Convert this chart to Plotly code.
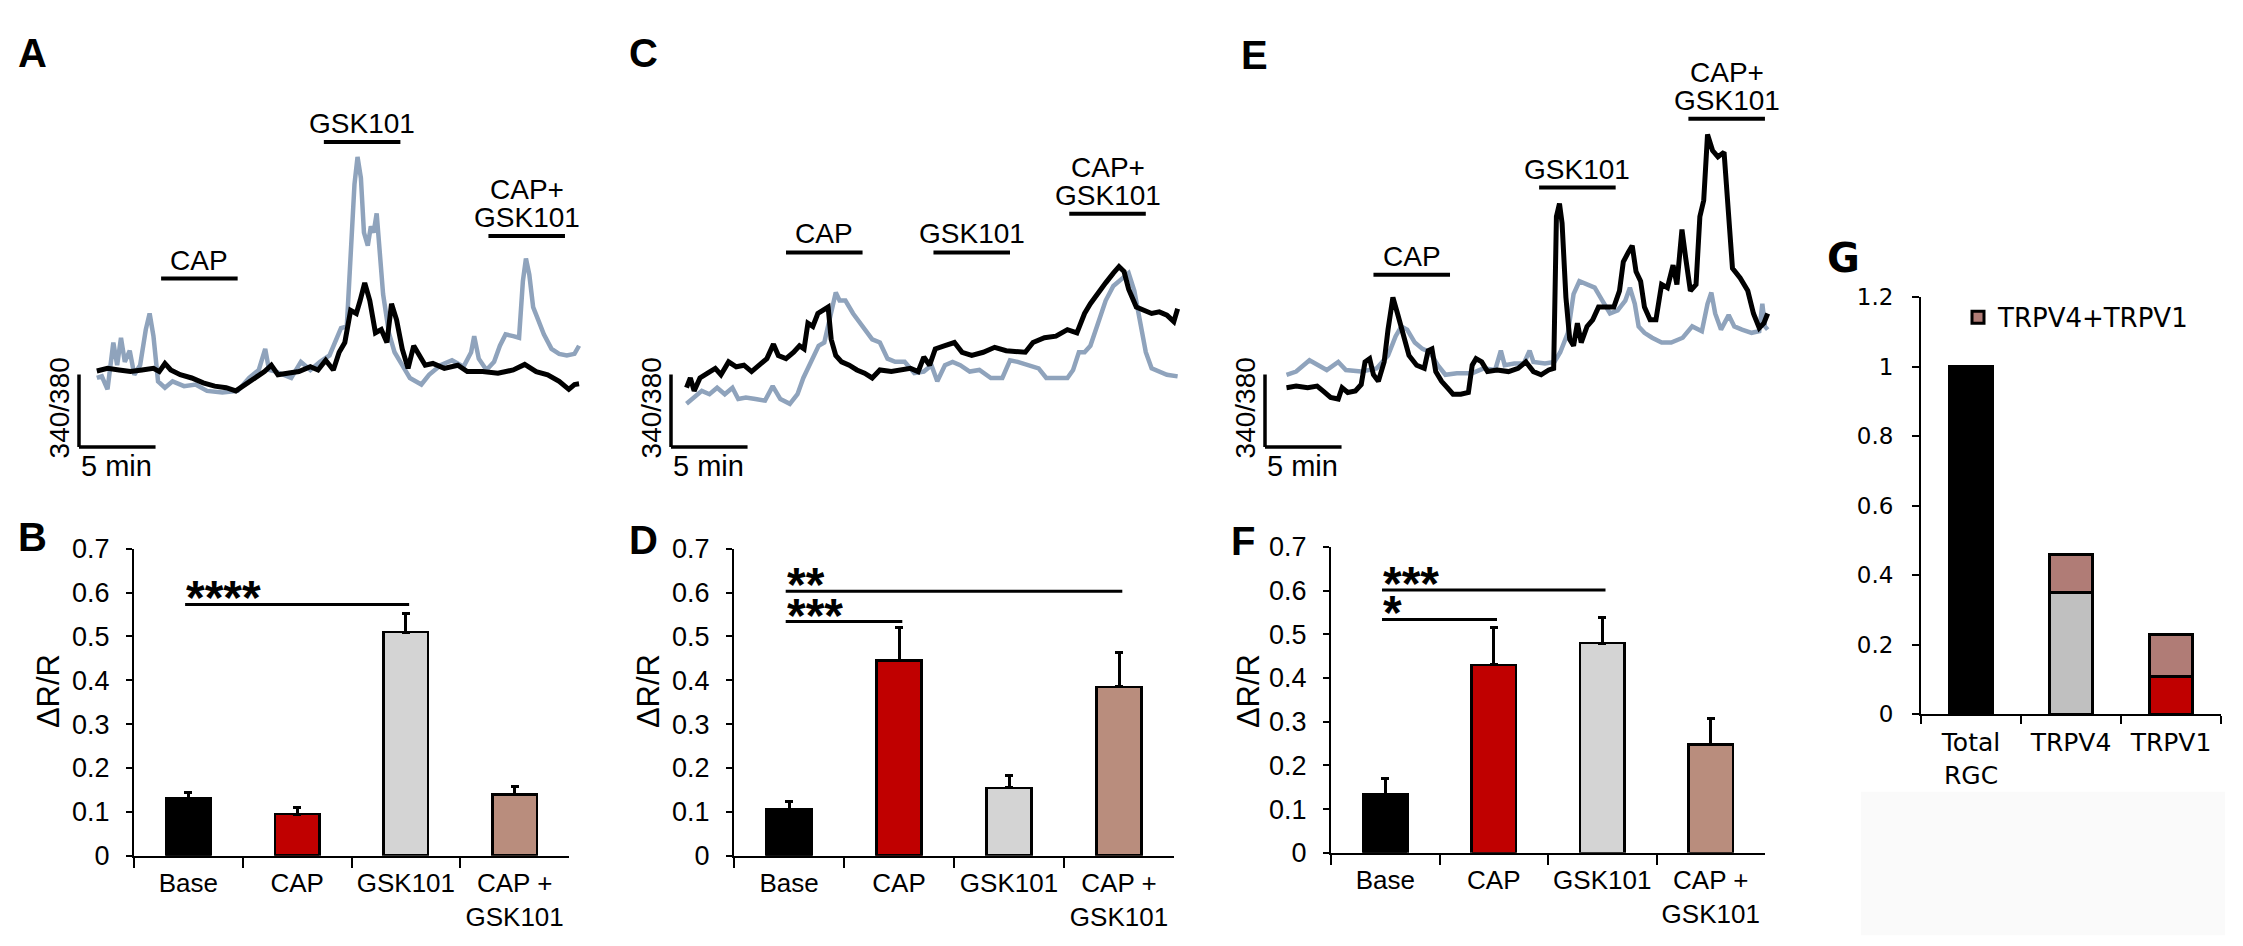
import plotly.graph_objects as go

W, H = 2243, 946

# calcium imaging traces, (time in min, fura-2 340/380 ratio)
A_GRAY = [(0.0, 0.956), (0.33, 0.967), (0.7, 0.878), (0.95, 1.067), (1.08, 1.2), (1.33, 1.044), (1.58, 1.233),
          (1.83, 1.067), (2.15, 1.144), (2.45, 0.978), (2.83, 1.044), (3.2, 1.289), (3.45, 1.4), (3.7, 1.244),
          (4.0, 0.933), (4.45, 0.889), (4.95, 0.933), (5.7, 0.9), (6.45, 0.911), (7.2, 0.867), (8.2, 0.856),
          (9.2, 0.867), (9.95, 0.956), (10.58, 1.011), (11.0, 1.156), (11.25, 1.011), (11.7, 1.0), (12.7, 0.956),
          (13.33, 1.067), (13.95, 1.011), (14.58, 1.067), (15.2, 1.111), (15.95, 1.3), (16.33, 1.311),
          (16.58, 1.844), (16.83, 2.289), (17.03, 2.478), (17.25, 2.333), (17.45, 1.956), (17.7, 1.867),
          (17.9, 2.0), (18.08, 1.956), (18.28, 2.089), (18.45, 1.889), (18.7, 1.533), (19.08, 1.267),
          (19.45, 1.133), (19.95, 1.044), (20.45, 0.956), (21.2, 0.911), (21.7, 0.978), (22.45, 1.044),
          (23.2, 1.078), (23.95, 1.033), (24.45, 1.133), (24.65, 1.244), (24.95, 1.089), (25.45, 1.011),
          (25.95, 1.067), (26.33, 1.178), (26.7, 1.256), (27.2, 1.244), (27.58, 1.233), (27.83, 1.622),
          (28.03, 1.778), (28.25, 1.667), (28.5, 1.444), (28.83, 1.356), (29.2, 1.256), (29.7, 1.156),
          (30.2, 1.122), (30.7, 1.111), (31.2, 1.122), (31.5, 1.178)]
A_BLACK = [(0.0, 1.004), (0.7, 1.022), (1.45, 1.011), (2.2, 1.0), (2.95, 1.011), (3.7, 1.022), (4.08, 1.0),
           (4.45, 1.056), (4.83, 1.011), (5.45, 0.978), (6.2, 0.956), (6.95, 0.922), (7.7, 0.9), (8.45, 0.889),
           (9.08, 0.867), (9.7, 0.911), (10.45, 0.967), (10.95, 1.0), (11.4, 1.044), (11.83, 0.978),
           (12.45, 0.989), (13.2, 1.0), (13.95, 1.033), (14.45, 1.011), (14.95, 1.078), (15.45, 1.011),
           (15.83, 1.133), (16.2, 1.2), (16.58, 1.422), (16.95, 1.4), (17.2, 1.489), (17.5, 1.611),
           (17.83, 1.489), (18.2, 1.267), (18.58, 1.289), (18.95, 1.2), (19.25, 1.467), (19.58, 1.356),
           (19.95, 1.156), (20.33, 1.022), (20.7, 1.178), (21.08, 1.111), (21.45, 1.044), (21.95, 1.056),
           (22.7, 1.022), (23.58, 1.044), (24.2, 1.0), (25.2, 1.0), (26.2, 0.989), (27.2, 1.011),
           (27.95, 1.049), (28.7, 1.0), (29.45, 0.978), (30.2, 0.933), (30.83, 0.878), (31.2, 0.911),
           (31.5, 0.916)]
C_GRAY = [(0.0, 0.778), (0.5, 0.822), (1.0, 0.867), (1.5, 0.844), (2.0, 0.889), (2.5, 0.844), (3.0, 0.889),
          (3.38, 0.811), (3.88, 0.822), (4.5, 0.811), (5.13, 0.8), (5.63, 0.9), (6.13, 0.811), (6.75, 0.778),
          (7.25, 0.844), (7.63, 0.956), (8.13, 1.067), (8.63, 1.178), (9.0, 1.2), (9.25, 1.311), (9.5, 1.444),
          (9.75, 1.544), (10.0, 1.489), (10.38, 1.489), (10.88, 1.4), (11.38, 1.333), (12.13, 1.222),
          (12.63, 1.2), (13.13, 1.089), (13.63, 1.067), (14.25, 1.067), (14.88, 0.989), (15.5, 1.0),
          (16.0, 1.044), (16.38, 0.933), (16.88, 1.044), (17.38, 1.067), (17.88, 1.044), (18.5, 1.0),
          (19.13, 1.011), (19.88, 0.956), (20.63, 0.956), (21.13, 1.078), (21.63, 1.067), (22.38, 1.044),
          (23.0, 1.022), (23.5, 0.956), (24.13, 0.956), (24.88, 0.956), (25.25, 1.011), (25.63, 1.133),
          (26.0, 1.133), (26.38, 1.178), (26.88, 1.333), (27.38, 1.489), (27.88, 1.589), (28.5, 1.644),
          (28.88, 1.678), (29.25, 1.556), (29.63, 1.356), (30.0, 1.133), (30.38, 1.022), (30.88, 1.0),
          (31.38, 0.978), (32.08, 0.967)]
C_BLACK = [(0.0, 0.889), (0.25, 0.956), (0.5, 0.867), (0.88, 0.956), (1.38, 0.989), (1.88, 1.022),
           (2.25, 0.978), (2.75, 1.067), (3.25, 1.033), (3.75, 1.044), (4.25, 1.0), (4.75, 1.044),
           (5.25, 1.089), (5.68, 1.189), (6.0, 1.111), (6.5, 1.089), (7.0, 1.133), (7.38, 1.178),
           (7.68, 1.156), (7.93, 1.333), (8.25, 1.311), (8.58, 1.4), (8.93, 1.422), (9.25, 1.444),
           (9.45, 1.222), (9.75, 1.111), (10.13, 1.067), (10.63, 1.044), (11.13, 1.011), (11.63, 0.989),
           (12.13, 0.956), (12.63, 1.011), (13.38, 1.0), (14.0, 1.011), (14.63, 1.022), (15.13, 1.0),
           (15.5, 1.1), (15.88, 1.044), (16.25, 1.156), (16.88, 1.178), (17.5, 1.2), (18.0, 1.133),
           (18.63, 1.111), (19.38, 1.133), (20.13, 1.167), (20.88, 1.144), (21.63, 1.133), (22.13, 1.133),
           (22.63, 1.2), (23.38, 1.233), (24.13, 1.244), (24.88, 1.289), (25.5, 1.267), (26.0, 1.4),
           (26.38, 1.467), (26.88, 1.544), (27.38, 1.611), (27.88, 1.678), (28.25, 1.722), (28.58, 1.689),
           (28.88, 1.567), (29.38, 1.444), (29.88, 1.422), (30.38, 1.4), (30.88, 1.411), (31.38, 1.389),
           (31.83, 1.344), (32.08, 1.433)]
E_GRAY = [(0.0, 0.978), (0.63, 1.0), (1.5, 1.078), (2.13, 1.044), (2.63, 1.011), (3.38, 1.067), (3.88, 1.011),
          (4.88, 1.0), (5.88, 1.022), (6.63, 1.111), (7.13, 1.244), (7.5, 1.311), (7.88, 1.289), (8.38, 1.2),
          (8.88, 1.156), (9.38, 1.133), (9.88, 1.044), (10.38, 0.978), (11.13, 0.989), (12.13, 0.989),
          (12.88, 1.022), (13.63, 1.011), (14.0, 1.144), (14.25, 1.044), (14.88, 1.056), (15.5, 1.056),
          (15.88, 1.144), (16.13, 1.067), (16.88, 1.056), (17.5, 1.067), (17.88, 1.133), (18.38, 1.267),
          (18.75, 1.533), (19.13, 1.622), (19.63, 1.6), (20.13, 1.578), (20.63, 1.489), (21.13, 1.4),
          (21.63, 1.422), (22.13, 1.489), (22.43, 1.578), (22.75, 1.467), (23.0, 1.311), (23.38, 1.267),
          (23.88, 1.233), (24.5, 1.2), (25.13, 1.2), (25.88, 1.233), (26.5, 1.311), (27.13, 1.278),
          (27.5, 1.467), (27.75, 1.544), (28.0, 1.4), (28.38, 1.289), (28.88, 1.389), (29.25, 1.311),
          (29.75, 1.289), (30.38, 1.267), (30.88, 1.278), (31.08, 1.467), (31.25, 1.311), (31.43, 1.289)]
E_BLACK = [(0.0, 0.889), (0.63, 0.9), (1.38, 0.889), (2.0, 0.9), (2.38, 0.867), (2.88, 0.822), (3.38, 0.811),
           (3.63, 0.889), (4.0, 0.856), (4.5, 0.867), (4.88, 0.911), (5.13, 1.067), (5.43, 1.089),
           (5.68, 0.978), (6.0, 0.933), (6.38, 1.067), (6.63, 1.289), (6.95, 1.511), (7.25, 1.4),
           (7.63, 1.244), (8.0, 1.111), (8.5, 1.044), (9.0, 1.022), (9.25, 1.144), (9.5, 1.156), (9.75, 1.0),
           (10.13, 0.933), (10.5, 0.889), (10.88, 0.844), (11.38, 0.844), (11.88, 0.856), (12.13, 1.044),
           (12.38, 1.089), (12.75, 1.067), (13.13, 1.0), (13.75, 1.011), (14.5, 1.0), (15.13, 1.022),
           (15.63, 1.067), (16.13, 1.0), (16.63, 0.978), (17.13, 1.011), (17.45, 1.022), (17.63, 2.067),
           (17.83, 2.156), (18.0, 2.022), (18.25, 1.511), (18.5, 1.222), (18.75, 1.178), (19.0, 1.333),
           (19.25, 1.2), (19.63, 1.311), (20.0, 1.356), (20.38, 1.444), (20.88, 1.444), (21.38, 1.444),
           (21.75, 1.556), (22.0, 1.756), (22.33, 1.822), (22.58, 1.867), (22.83, 1.689), (23.13, 1.622),
           (23.38, 1.444), (23.75, 1.356), (24.13, 1.356), (24.5, 1.6), (24.88, 1.578), (25.25, 1.733),
           (25.5, 1.6), (25.83, 1.978), (26.08, 1.778), (26.38, 1.556), (26.75, 1.6), (27.0, 2.067),
           (27.25, 2.178), (27.5, 2.633), (27.83, 2.522), (28.18, 2.478), (28.58, 2.511), (28.88, 2.067),
           (29.13, 1.711), (29.63, 1.644), (30.13, 1.556), (30.5, 1.4), (30.88, 1.3), (31.18, 1.333),
           (31.43, 1.4)]

# drug application windows (min)
STIM_LABELS = ["CAP", "GSK101", "CAP+<br>GSK101"]
A_STIM = [(4.2, 9.2), (14.83, 19.83), (25.58, 30.58)]
C_STIM = [(6.5, 11.5), (16.13, 21.13), (25.0, 30.0)]
E_STIM = [(5.68, 10.68), (16.5, 21.5), (26.25, 31.25)]
SCALE_MIN = 5
SCALE_RATIO = 0.5

# mean dR/R and SEM
GROUPS = ["Base", "CAP", "GSK101", "CAP +<br>GSK101"]
B_MEAN = [0.13, 0.095, 0.51, 0.14]
B_SEM = [0.015, 0.016, 0.043, 0.019]
D_MEAN = [0.105, 0.445, 0.155, 0.385]
D_SEM = [0.019, 0.076, 0.027, 0.078]
F_MEAN = [0.133, 0.43, 0.48, 0.248]
F_SEM = [0.036, 0.086, 0.059, 0.06]
B_SIG = [(0, 2, 0.573, "****")]
D_SIG = [(0, 3, 0.603, "**"), (0, 1, 0.534, "***")]
F_SIG = [(0, 2, 0.601, "***"), (0, 1, 0.534, "*")]

# fraction of RGCs
G_CATS = ["Total<br>RGC", "TRPV4", "TRPV1"]
G_SINGLE = [1.0, 0.35, 0.11]
G_BOTH = [0, 0.11, 0.12]

BAR_COLORS = ["#000000", "#C00000", "#D4D4D4", "#B98D7D"]
G_COLORS = ["#000000", "#C0C0C0", "#C00000"]
G_BOTH_COLOR = "#B07C76"
GRAY_TRACE = "#8FA3BC"
FONT = "Liberation Sans, Arial, sans-serif"
FONT_G = "DejaVu Sans, Verdana, sans-serif"


def px(x):
    return x / W


def py(y):
    return 1 - y / H


fig = go.Figure()
layout = {}
shapes = []
annotations = []


def letter(text, x, y, family=FONT, size=40):
    annotations.append(dict(text="<b>%s</b>" % text, x=px(x), y=py(y), xref="paper", yref="paper",
                            xanchor="left", yanchor="middle", showarrow=False,
                            font=dict(family=family, size=size, color="black")))


def paper_text(text, x, y, size=29, angle=0):
    annotations.append(dict(text=text, x=px(x), y=py(y), xref="paper", yref="paper", textangle=angle,
                            xanchor="center", yanchor="middle", showarrow=False,
                            font=dict(family=FONT, size=size, color="black")))


# ---- trace panels A, C, E ----
PPM = 15.31     # px per minute
PPR = 150.0     # px per ratio unit
BASE_Y = 360    # px where ratio = 1
TOP, BOTTOM = 15, 480

trace_panels = [
    ("A", 1, 88.8, (55, 600), 71, A_STIM, [1.64, 2.58, 1.933], A_GRAY, A_BLACK, 8, 31),
    ("C", 2, 678.5, (645, 1190), 663, C_STIM, [1.82, 1.82, 2.087], C_GRAY, C_BLACK, 619, 31),
    ("E", 3, 1278.5, (1240, 1790), 1257, E_STIM, [1.667, 2.267, 2.74], E_GRAY, E_BLACK, 1231, 33),
]

for name, i, x0, (l, r), sb_px, stim, levels, gray, black, lx, ly in trace_panels:
    xa, ya = "x%d" % i, "y%d" % i
    layout["xaxis%d" % i] = dict(domain=[px(l), px(r)], range=[(l - x0) / PPM, (r - x0) / PPM],
                                 visible=False, anchor=ya)
    layout["yaxis%d" % i] = dict(domain=[py(BOTTOM), py(TOP)],
                                 range=[1 - (BOTTOM - BASE_Y) / PPR, 1 + (BASE_Y - TOP) / PPR],
                                 visible=False, anchor=xa)
    for pts, color, lw in [(gray, GRAY_TRACE, 4.5), (black, "black", 5)]:
        fig.add_trace(go.Scatter(x=[p[0] for p in pts], y=[p[1] for p in pts], mode="lines",
                                 line=dict(color=color, width=lw), xaxis=xa, yaxis=ya,
                                 showlegend=False, hoverinfo="skip"))
    # scale bar
    t_sb = (sb_px - x0) / PPM
    r_sb = 1 - (438 - BASE_Y) / PPR
    shapes.append(dict(type="line", xref=xa, yref=ya, x0=t_sb, x1=t_sb, y0=r_sb, y1=r_sb + SCALE_RATIO,
                       line=dict(color="black", width=3.5)))
    shapes.append(dict(type="line", xref=xa, yref=ya, x0=t_sb, x1=t_sb + SCALE_MIN, y0=r_sb, y1=r_sb,
                       line=dict(color="black", width=3.5)))
    paper_text("340/380", sb_px - 20, 398, size=28, angle=-90)
    paper_text("%d min" % SCALE_MIN, sb_px + 37, 458)
    # drug bars
    for (t0, t1), lev, lab in zip(stim, levels, STIM_LABELS):
        shapes.append(dict(type="line", xref=xa, yref=ya, x0=t0, x1=t1, y0=lev, y1=lev,
                           line=dict(color="black", width=4)))
        for k, line_txt in enumerate(reversed(lab.split("<br>"))):
            annotations.append(dict(text=line_txt, x=(t0 + t1) / 2, y=lev, xref=xa, yref=ya,
                                    xanchor="center", yanchor="bottom", yshift=1 + 28 * k,
                                    showarrow=False, font=dict(family=FONT, size=28, color="black")))
    letter(name, lx, ly)

# ---- bar panels B, D, F ----
bar_panels = [
    ("B", 4, (126, 561), (543, 860), B_MEAN, B_SEM, B_SIG, 8, 531, 40),
    ("D", 5, (726, 1166), (543, 860), D_MEAN, D_SEM, D_SIG, 619, 534, 640),
    ("F", 6, (1323, 1757), (541, 857), F_MEAN, F_SEM, F_SIG, 1221, 535, 1240),
]

for name, i, (l, r), (t, b), mean, sem, sig, lx, ly, tx in bar_panels:
    xa, ya = "x%d" % i, "y%d" % i
    fig.add_trace(go.Bar(x=GROUPS, y=mean, width=0.41, xaxis=xa, yaxis=ya, showlegend=False,
                         marker=dict(color=BAR_COLORS, line=dict(color="black", width=2.5)),
                         error_y=dict(type="data", array=sem, arrayminus=[0] * len(sem), symmetric=False,
                                      color="black", thickness=3, width=4),
                         hoverinfo="skip"))
    layout["xaxis%d" % i] = dict(domain=[px(l), px(r)], anchor=ya, type="category", range=[-0.5, 3.5],
                                 showline=True, linecolor="black", linewidth=2, ticks="outside",
                                 tickson="boundaries", ticklen=10, tickwidth=2, tickcolor="black",
                                 showgrid=False, tickangle=0,
                                 tickfont=dict(family=FONT, size=26, color="black"), ticklabelstandoff=3)
    layout["yaxis%d" % i] = dict(domain=[py(b), py(t)], anchor=xa, range=[0, 0.7], dtick=0.1, tick0=0,
                                 showline=True, linecolor="black", linewidth=2, ticks="outside",
                                 ticklen=6, tickwidth=2, tickcolor="black", showgrid=False, zeroline=False,
                                 tickfont=dict(family=FONT, size=27, color="black"), ticklabelstandoff=11)
    for g0, g1, lev, stars in sig:
        shapes.append(dict(type="line", xref=xa, yref=ya, x0=g0 - 0.03, x1=g1 + 0.03, y0=lev, y1=lev,
                           line=dict(color="black", width=3)))
        # box kept just tall enough for the asterisk glyphs so stacked labels do not collide
        annotations.append(dict(text="<b>%s</b>" % stars, x=g0 - 0.04, y=lev, xref=xa, yref=ya,
                                xanchor="left", yanchor="bottom", yshift=2, height=29, valign="top",
                                showarrow=False, font=dict(family=FONT, size=48, color="black")))
    paper_text("\u0394R/R", tx, 690, size=31, angle=-90)
    letter(name, lx, ly)

# ---- panel G ----
shapes.append(dict(type="rect", xref="paper", yref="paper", x0=px(1853), x1=px(2217), y0=py(942), y1=py(794),
                   fillcolor="#FAFAFA", line=dict(width=0), layer="below"))
fig.add_trace(go.Bar(x=G_CATS, y=G_SINGLE, width=0.43, xaxis="x7", yaxis="y7", showlegend=False,
                     marker=dict(color=G_COLORS, line=dict(color="black", width=3)), hoverinfo="skip"))
fig.add_trace(go.Bar(x=G_CATS, y=G_BOTH, width=0.43, xaxis="x7", yaxis="y7", name="TRPV4+TRPV1",
                     marker=dict(color=G_BOTH_COLOR, line=dict(color="black", width=3)), hoverinfo="skip"))
layout["xaxis7"] = dict(domain=[px(1913), px(2213)], anchor="y7", type="category", range=[-0.5, 2.5],
                        showline=True, linecolor="black", linewidth=2, ticks="outside", tickson="boundaries",
                        ticklen=8, tickwidth=2, tickcolor="black", showgrid=False, tickangle=0,
                        tickfont=dict(family=FONT_G, size=25, color="black"), ticklabelstandoff=5)
layout["yaxis7"] = dict(domain=[py(714), py(283)], anchor="x7", range=[0, 1.2], dtick=0.2, tick0=0,
                        showline=True, linecolor="black", linewidth=2, ticks="outside", ticklen=7, tickwidth=2,
                        tickcolor="black", showgrid=False, zeroline=False,
                        tickfont=dict(family=FONT_G, size=23, color="black"), ticklabelstandoff=14)
letter("G", 1817, 243, family=FONT_G, size=40)

fig.update_layout(
    width=W, height=H, margin=dict(l=0, r=0, t=0, b=0),
    paper_bgcolor="white", plot_bgcolor="white",
    barmode="stack", font=dict(family=FONT, color="black"),
    shapes=shapes, annotations=annotations,
    legend=dict(x=px(1950), y=py(304), xanchor="left", yanchor="middle", bgcolor="rgba(0,0,0,0)",
                font=dict(family=FONT_G, size=26, color="black"), itemwidth=30),
    **layout
)

fig.write_html("out.html")
